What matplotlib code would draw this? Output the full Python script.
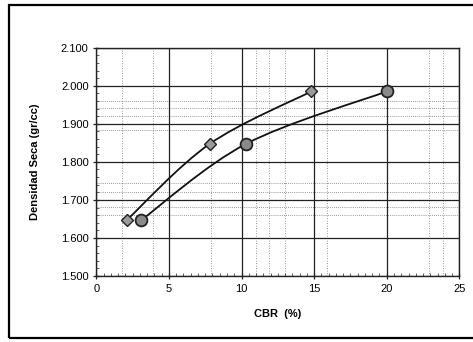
import matplotlib
matplotlib.use("Agg")
import matplotlib.pyplot as plt
import numpy as np
from matplotlib.path import Path
from matplotlib.patches import PathPatch, Rectangle
from matplotlib.ticker import MultipleLocator, FuncFormatter

# --- data ---
cbr_a = [2.1, 7.8, 14.8]
dens_a = [1.647, 1.847, 1.985]
cbr_b = [3.1, 10.3, 20.0]
dens_b = [1.647, 1.847, 1.985]

x_ticks = [0, 5, 10, 15, 20, 25]
y_ticks = [1.5, 1.6, 1.7, 1.8, 1.9, 2.0, 2.1]

# faint dotted lines visible in the scan (paper grid)
faint_x = [1.8, 3.9, 7.9, 11.0, 11.9, 13.0, 15.9, 22.9, 23.9]
faint_y = [1.660, 1.682, 1.720, 1.744, 1.884, 1.920, 1.942, 1.960]


def smooth_path(xs, ys):
    """Excel-like smoothed line: Catmull-Rom converted to cubic Beziers."""
    p = np.column_stack([xs, ys]).astype(float)
    ext = np.vstack([p[0], p, p[-1]])
    verts = [p[0]]
    codes = [Path.MOVETO]
    for i in range(len(p) - 1):
        p0, p1, p2, p3 = ext[i], ext[i + 1], ext[i + 2], ext[i + 3]
        c1 = p1 + (p2 - p0) / 6.0
        c2 = p2 - (p3 - p1) / 6.0
        verts += [c1, c2, p2]
        codes += [Path.CURVE4] * 3
    return Path(verts, codes)


plt.rcParams['font.family'] = ['Liberation Sans', 'DejaVu Sans']

fig = plt.figure(figsize=(4.73, 3.42), dpi=100)
ax = fig.add_axes([0.2036, 0.193, 0.7675, 0.6675])

# outer chart border (right edge is cut off in the scan)
fig.patches.append(Rectangle((0.019, 0.011), 1.2, 0.975, transform=fig.transFigure,
                             fill=False, edgecolor='black', linewidth=1.6))

for xv in faint_x:
    ax.axvline(xv, color='#777777', linestyle=(0, (1, 2)), linewidth=0.6, zorder=1)
for yv in faint_y:
    ax.axhline(yv, color='#777777', linestyle=(0, (1, 1.5)), linewidth=0.6, zorder=1)

ax.set_xlim(0, 25)
ax.set_ylim(1.5, 2.1)
ax.set_xticks(x_ticks)
ax.set_yticks(y_ticks)
ax.xaxis.set_minor_locator(MultipleLocator(0.5))
ax.yaxis.set_minor_locator(MultipleLocator(0.02))
ax.yaxis.set_major_formatter(FuncFormatter(lambda v, pos: f"{v:.3f}"))
ax.grid(True, which='major', color='#222222', linewidth=0.9, zorder=1)

for xs, ys in [(cbr_a, dens_a), (cbr_b, dens_b)]:
    ax.add_patch(PathPatch(smooth_path(xs, ys), facecolor='none',
                           edgecolor='#111111', linewidth=1.3, zorder=3))

ax.plot(cbr_a, dens_a, linestyle='none', marker='D', markersize=6,
        markerfacecolor='#9a9a9a', markeredgecolor='#222222', markeredgewidth=1.0, zorder=4)
ax.plot(cbr_b, dens_b, linestyle='none', marker='o', markersize=8.5,
        markerfacecolor='#8a8a8a', markeredgecolor='#222222', markeredgewidth=1.3, zorder=4)

ax.tick_params(axis='both', which='major', labelsize=8, length=4, width=0.9,
               direction='inout', color='#222222')
ax.tick_params(axis='both', which='minor', length=2, width=0.6, direction='in', color='#444444')
for s in ax.spines.values():
    s.set_linewidth(1.0)
    s.set_color('#222222')

ax.set_xlabel("CBR  (%)", fontsize=8, fontweight='bold', labelpad=11)
ax.set_ylabel("Densidad Seca (gr/cc)", fontsize=8, fontweight='bold', labelpad=15)

fig.savefig("out.png", dpi=100)
